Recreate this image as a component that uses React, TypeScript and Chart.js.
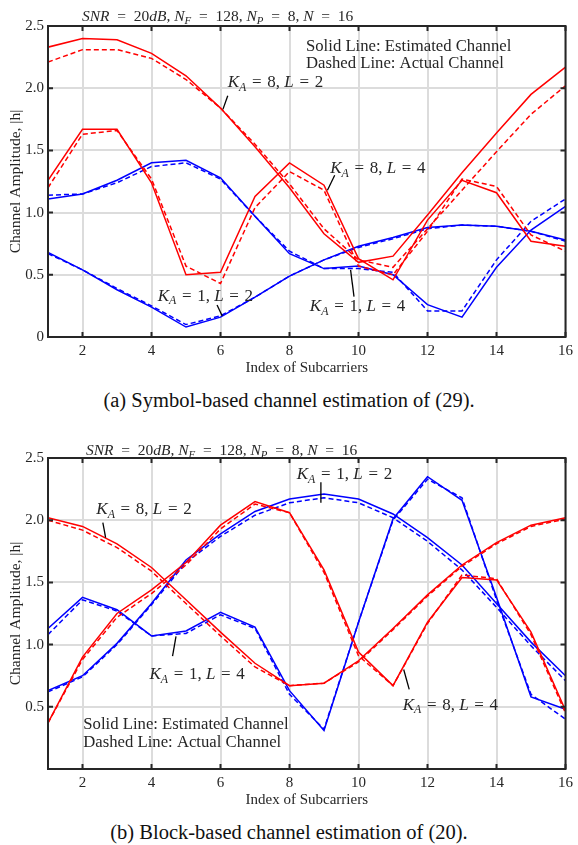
import React, { useEffect, useRef } from 'react';
import { Chart, registerables } from 'chart.js';

Chart.register(...registerables);

// ---------- data ----------
const subcarriers = [1, 2, 3, 4, 5, 6, 7, 8, 9, 10, 11, 12, 13, 14, 15, 16];
const xTickValues = [2, 4, 6, 8, 10, 12, 14, 16];
const yTickValuesA = [0, 0.5, 1, 1.5, 2, 2.5];
const yTickValuesB = [0.5, 1, 1.5, 2, 2.5];

// (a) Symbol-based
const aEstK8L2 = [2.33, 2.40, 2.39, 2.28, 2.10, 1.84, 1.53, 1.20, 0.83, 0.60, 0.65, 0.98, 1.32, 1.64, 1.95, 2.17];
const aActK8L2 = [2.21, 2.31, 2.31, 2.24, 2.07, 1.84, 1.55, 1.23, 0.87, 0.62, 0.56, 0.87, 1.18, 1.49, 1.79, 2.02];
const aEstK8L4 = [1.26, 1.67, 1.67, 1.24, 0.50, 0.52, 1.13, 1.40, 1.22, 0.63, 0.46, 0.94, 1.26, 1.16, 0.77, 0.73];
const aActK8L4 = [1.20, 1.63, 1.66, 1.27, 0.57, 0.43, 1.04, 1.33, 1.18, 0.57, 0.50, 0.85, 1.27, 1.21, 0.82, 0.69];
const aEstK1L2 = [0.68, 0.54, 0.38, 0.24, 0.08, 0.16, 0.32, 0.49, 0.62, 0.73, 0.80, 0.88, 0.90, 0.89, 0.85, 0.78];
const aActK1L2 = [0.67, 0.54, 0.39, 0.25, 0.10, 0.17, 0.32, 0.49, 0.62, 0.72, 0.79, 0.87, 0.90, 0.89, 0.85, 0.77];
const aEstK1L4 = [1.11, 1.15, 1.26, 1.40, 1.42, 1.28, 0.97, 0.67, 0.55, 0.57, 0.50, 0.26, 0.16, 0.56, 0.86, 1.05];
const aActK1L4 = [1.14, 1.15, 1.24, 1.37, 1.40, 1.27, 0.97, 0.69, 0.55, 0.55, 0.52, 0.21, 0.21, 0.62, 0.93, 1.11];

// (b) Block-based
const bEstK8L2 = [2.02, 1.95, 1.81, 1.62, 1.36, 1.10, 0.85, 0.67, 0.69, 0.87, 1.13, 1.40, 1.64, 1.82, 1.96, 2.02];
const bActK8L2 = [2.00, 1.92, 1.78, 1.59, 1.33, 1.07, 0.82, 0.67, 0.69, 0.86, 1.12, 1.39, 1.63, 1.81, 1.95, 2.01];
const bEstK8L4 = [0.37, 0.90, 1.25, 1.44, 1.66, 1.96, 2.15, 2.06, 1.60, 0.94, 0.67, 1.18, 1.54, 1.52, 1.10, 0.47];
const bActK8L4 = [0.37, 0.88, 1.22, 1.41, 1.64, 1.93, 2.13, 2.06, 1.58, 0.91, 0.67, 1.17, 1.56, 1.53, 1.08, 0.45];
const bEstK1L2 = [0.63, 0.75, 1.01, 1.33, 1.68, 1.89, 2.07, 2.17, 2.21, 2.17, 2.05, 1.86, 1.64, 1.33, 1.02, 0.75];
const bActK1L2 = [0.62, 0.74, 1.00, 1.32, 1.66, 1.87, 2.04, 2.14, 2.18, 2.14, 2.02, 1.83, 1.60, 1.30, 0.99, 0.71];
const bEstK1L4 = [1.13, 1.38, 1.28, 1.07, 1.11, 1.26, 1.14, 0.63, 0.31, 1.18, 2.01, 2.35, 2.16, 1.38, 0.58, 0.48];
const bActK1L4 = [1.08, 1.36, 1.27, 1.07, 1.09, 1.24, 1.13, 0.60, 0.32, 1.18, 2.00, 2.33, 2.18, 1.36, 0.60, 0.40];

const xAxisTitle = 'Index of Subcarriers';
const yAxisTitle = 'Channel Amplitude, |h|';
const legendSolid = 'Solid Line: Estimated Channel';
const legendDashed = 'Dashed Line: Actual Channel';
const captionA = '(a) Symbol-based channel estimation of (29).';
const captionB = '(b) Block-based channel estimation of (20).';

// ---------- rich text ----------
type Seg = { t: string; it?: boolean; sub?: boolean };
const SERIF = '"Liberation Serif", "Times New Roman", serif';
const EQ = '\u2002=\u2002';
const EQ2 = '\u2004=\u2004';

const titleSegs: Seg[] = [
  { t: 'SNR', it: true }, { t: `${EQ}20` }, { t: 'dB', it: true }, { t: ', ' },
  { t: 'N', it: true }, { t: 'F', it: true, sub: true }, { t: `${EQ}128, ` },
  { t: 'N', it: true }, { t: 'P', it: true, sub: true }, { t: `${EQ}8, ` },
  { t: 'N', it: true }, { t: `${EQ}16` },
];

const kaLabel = (k: number, l: number): Seg[] => [
  { t: 'K', it: true }, { t: 'A', it: true, sub: true }, { t: `${EQ2}${k}, ` },
  { t: 'L', it: true }, { t: `${EQ2}${l}` },
];

function drawRich(ctx: CanvasRenderingContext2D, segs: Seg[], x: number, y: number, size: number) {
  let cx = x;
  ctx.textBaseline = 'alphabetic';
  ctx.textAlign = 'left';
  for (const s of segs) {
    const fs = s.sub ? size * 0.7 : size;
    ctx.font = `${s.it ? 'italic ' : ''}${fs}px ${SERIF}`;
    ctx.fillText(s.t, cx, y + (s.sub ? size * 0.22 : 0));
    cx += ctx.measureText(s.t).width;
  }
}

interface Note { segs: Seg[]; x: number; y: number; line: [number, number, number, number] }
interface PanelCfg {
  series: { data: number[]; color: string; dashed: boolean }[];
  yTicks: number[];
  notes: Note[];
  title: [number, number];
  legend: [number, number, number];
  caption: string;
}

const RED = '#ff0000';
const BLUE = '#0000ff';

const panelA: PanelCfg = {
  series: [
    { data: aEstK8L2, color: RED, dashed: false },
    { data: aActK8L2, color: RED, dashed: true },
    { data: aEstK8L4, color: RED, dashed: false },
    { data: aActK8L4, color: RED, dashed: true },
    { data: aEstK1L2, color: BLUE, dashed: false },
    { data: aActK1L2, color: BLUE, dashed: true },
    { data: aEstK1L4, color: BLUE, dashed: false },
    { data: aActK1L4, color: BLUE, dashed: true },
  ],
  yTicks: yTickValuesA,
  notes: [
    { segs: kaLabel(8, 2), x: 6.21, y: 2.01, line: [6.21, 1.94, 6.07, 1.83] },
    { segs: kaLabel(8, 4), x: 9.18, y: 1.315, line: [9.31, 1.30, 9.10, 1.18] },
    { segs: kaLabel(1, 2), x: 4.18, y: 0.292, line: [5.90, 0.257, 6.05, 0.169] },
    { segs: kaLabel(1, 4), x: 8.59, y: 0.209, line: [9.77, 0.539, 9.87, 0.324] },
  ],
  title: [82, 21],
  legend: [306, 50.7, 68.3],
  caption: captionA,
};

const panelB: PanelCfg = {
  series: [
    { data: bEstK8L2, color: RED, dashed: false },
    { data: bActK8L2, color: RED, dashed: true },
    { data: bEstK8L4, color: RED, dashed: false },
    { data: bActK8L4, color: RED, dashed: true },
    { data: bEstK1L2, color: BLUE, dashed: false },
    { data: bActK1L2, color: BLUE, dashed: true },
    { data: bEstK1L4, color: BLUE, dashed: false },
    { data: bActK1L4, color: BLUE, dashed: true },
  ],
  yTicks: yTickValuesB,
  notes: [
    { segs: kaLabel(8, 2), x: 2.40, y: 2.046, line: [2.59, 1.98, 2.67, 1.86] },
    { segs: kaLabel(1, 2), x: 8.21, y: 2.333, line: [8.91, 2.305, 8.91, 2.14] },
    { segs: kaLabel(1, 4), x: 3.94, y: 0.72, line: [4.71, 1.067, 4.61, 0.907] },
    { segs: kaLabel(8, 4), x: 11.28, y: 0.478, line: [11.31, 0.80, 11.47, 0.64] },
  ],
  title: [86, 23],
  legend: [83.3, 297, 314.7],
  caption: captionB,
};

const TEXT = '#262626';

function Panel({ cfg, top }: { cfg: PanelCfg; top: number }) {
  const ref = useRef<HTMLCanvasElement | null>(null);
  useEffect(() => {
    if (!ref.current) return;
    const overlay = {
      id: 'overlay',
      afterDatasetsDraw(chart: any) {
        const { ctx, chartArea: a, scales } = chart;
        const xs = scales.x, ys = scales.y;
        ctx.save();
        // frame
        ctx.strokeStyle = TEXT;
        ctx.lineWidth = 2;
        ctx.strokeRect(a.left, a.top, a.right - a.left, a.bottom - a.top);
        // inward ticks
        const tl = 5;
        ctx.beginPath();
        for (const v of xTickValues) {
          const px = xs.getPixelForValue(v);
          ctx.moveTo(px, a.bottom); ctx.lineTo(px, a.bottom - tl);
          ctx.moveTo(px, a.top); ctx.lineTo(px, a.top + tl);
        }
        for (const v of cfg.yTicks) {
          const py = ys.getPixelForValue(v);
          ctx.moveTo(a.left, py); ctx.lineTo(a.left + tl, py);
          ctx.moveTo(a.right, py); ctx.lineTo(a.right - tl, py);
        }
        ctx.stroke();
        // title
        ctx.fillStyle = TEXT;
        drawRich(ctx, titleSegs, cfg.title[0], cfg.title[1], 15.5);
        // legend text
        ctx.font = `16.7px ${SERIF}`;
        ctx.textBaseline = 'alphabetic';
        ctx.fillText(legendSolid, cfg.legend[0], cfg.legend[1]);
        ctx.fillText(legendDashed, cfg.legend[0], cfg.legend[2]);
        // notes
        ctx.strokeStyle = '#000000';
        ctx.lineWidth = 1.3;
        for (const n of cfg.notes) {
          ctx.fillStyle = TEXT;
          drawRich(ctx, n.segs, xs.getPixelForValue(n.x), ys.getPixelForValue(n.y), 17);
          ctx.beginPath();
          ctx.moveTo(xs.getPixelForValue(n.line[0]), ys.getPixelForValue(n.line[1]));
          ctx.lineTo(xs.getPixelForValue(n.line[2]), ys.getPixelForValue(n.line[3]));
          ctx.stroke();
        }
        ctx.restore();
      },
    };

    const chart = new Chart(ref.current, {
      type: 'line',
      data: {
        datasets: cfg.series.map((s) => ({
          data: s.data.map((v, i) => ({ x: subcarriers[i], y: v })),
          borderColor: s.color,
          backgroundColor: s.color,
          borderWidth: 1.5,
          borderDash: s.dashed ? [5, 3] : [],
          pointRadius: 0,
          tension: 0,
          fill: false,
        })),
      },
      options: {
        animation: false,
        responsive: false,
        devicePixelRatio: 1,
        layout: { padding: { top: 26, right: 9, left: 0, bottom: 0 } },
        plugins: { legend: { display: false }, tooltip: { enabled: false } },
        scales: {
          x: {
            type: 'linear',
            min: 1,
            max: 16,
            afterBuildTicks: (s: any) => { s.ticks = xTickValues.map((v) => ({ value: v })); },
            afterFit: (s: any) => { s.height = 43; },
            grid: { color: '#dcdcdc', lineWidth: 2, drawTicks: false },
            border: { display: false },
            ticks: { padding: 5, color: TEXT, font: { family: SERIF, size: 15 } },
            title: {
              display: true, text: xAxisTitle, color: TEXT,
              font: { family: SERIF, size: 15 }, padding: { top: 0, bottom: 3.4 },
            },
          },
          y: {
            type: 'linear',
            min: 0,
            max: 2.5,
            afterBuildTicks: (s: any) => { s.ticks = cfg.yTicks.map((v) => ({ value: v })); },
            afterFit: (s: any) => { s.width = 48; },
            grid: { color: '#dcdcdc', lineWidth: 2, drawTicks: false },
            border: { display: false },
            ticks: { padding: 4, color: TEXT, font: { family: SERIF, size: 15 } },
            title: {
              display: true, text: yAxisTitle, color: TEXT,
              font: { family: SERIF, size: 15.5 }, padding: { top: 6.2, bottom: 0 },
            },
          },
        },
      },
      plugins: [overlay],
    } as any);
    return () => chart.destroy();
  }, [cfg]);

  return (
    <div style={{ position: 'absolute', left: 0, top, width: 578, height: 420 }}>
      <canvas ref={ref} width={578} height={380} style={{ display: 'block', width: 578, height: 380 }} />
      <div
        style={{
          position: 'absolute', left: 0, top: 388, width: 578, textAlign: 'center',
          fontFamily: SERIF, fontSize: 20.5, color: '#111', lineHeight: '24px', whiteSpace: 'nowrap',
        }}
      >
        {cfg.caption}
      </div>
    </div>
  );
}

export default function App() {
  return (
    <div style={{ position: 'absolute', left: 0, top: 0, width: 578, height: 845, background: '#fff' }}>
      <Panel cfg={panelA} top={0} />
      <Panel cfg={panelB} top={432} />
    </div>
  );
}
